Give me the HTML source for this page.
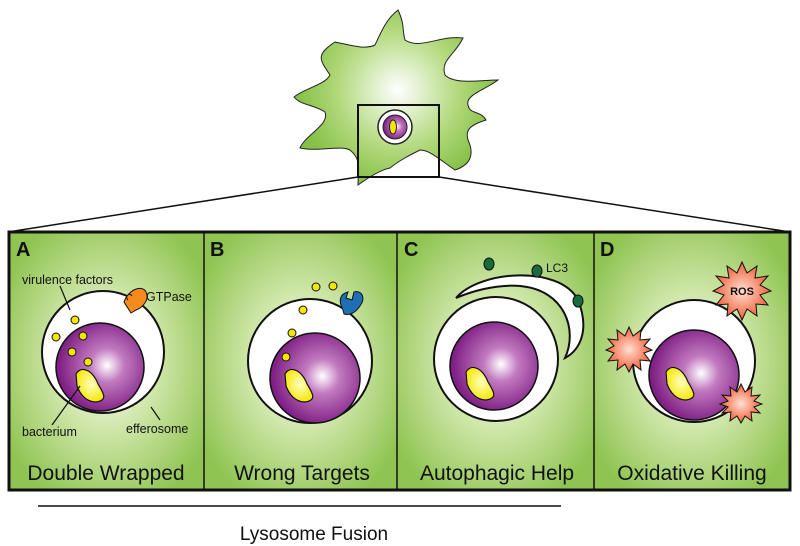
<!DOCTYPE html>
<html><head><style>html,body{margin:0;padding:0;background:#fff}svg{display:block}</style></head>
<body>
<svg width="800" height="546" viewBox="0 0 800 546" xmlns="http://www.w3.org/2000/svg" font-family="Liberation Sans, sans-serif">
<defs>
<radialGradient id="g" cx="50%" cy="50%" r="60%"><stop offset="0" stop-color="#ffffff"/><stop offset="0.45" stop-color="#cfe6a8"/><stop offset="1" stop-color="#8fc452"/></radialGradient>
<radialGradient id="p" cx="58%" cy="48%" r="55%"><stop offset="0" stop-color="#ffffff"/><stop offset="0.35" stop-color="#c27ac0"/><stop offset="1" stop-color="#7f1f84"/></radialGradient>
<radialGradient id="y" cx="55%" cy="45%" r="60%"><stop offset="0" stop-color="#ffffc0"/><stop offset="1" stop-color="#f4e600"/></radialGradient>
<radialGradient id="r" cx="50%" cy="50%" r="55%"><stop offset="0" stop-color="#ffe0d0"/><stop offset="1" stop-color="#f0502a"/></radialGradient>
<radialGradient id="cg" gradientUnits="userSpaceOnUse" cx="398" cy="90" r="100"><stop offset="0" stop-color="#ffffff"/><stop offset="0.6" stop-color="#b2d97c"/><stop offset="1" stop-color="#86c046"/></radialGradient>
</defs>
<!-- cell -->
<path d="M398,10 C405,25 402,30 405,40 C420,50 440,35 463,38 C455,55 440,60 445,75 C455,85 480,80 498,80 C485,90 465,95 468,105 C470,115 480,110 486,120 C470,125 465,130 468,140 C475,155 470,165 455,170 C440,160 430,150 420,150 C410,155 400,160 390,168 C380,170 365,180 358,185 C358,170 362,160 350,150 C340,145 320,152 300,148 C305,135 330,125 325,112 C315,105 300,105 294,97 C305,88 325,85 330,75 C320,60 315,55 335,42 C350,45 365,50 375,45 C380,35 385,20 398,10 Z" fill="url(#cg)" stroke="#222" stroke-width="1"/>
<rect x="358" y="105" width="81" height="72" fill="none" stroke="#111" stroke-width="2"/>
<circle cx="395" cy="127" r="17" fill="#fff" stroke="#222" stroke-width="1.5"/>
<circle cx="395" cy="127" r="12" fill="url(#p)" stroke="#222"/>
<ellipse cx="393" cy="127" rx="3.5" ry="7" fill="#f4e600" stroke="#222"/>
<line x1="358" y1="177" x2="8" y2="232" stroke="#111" stroke-width="1.5"/>
<line x1="439" y1="177" x2="790" y2="232" stroke="#111" stroke-width="1.5"/>
<!-- panels -->
<rect x="9" y="232" width="195" height="258" fill="url(#g)"/>
<rect x="204" y="232" width="193" height="258" fill="url(#g)"/>
<rect x="397" y="232" width="197" height="258" fill="url(#g)"/>
<rect x="594" y="232" width="196" height="258" fill="url(#g)"/>
<rect x="9" y="232" width="781" height="258" fill="none" stroke="#111" stroke-width="3"/>
<line x1="204" y1="232" x2="204" y2="490" stroke="#111" stroke-width="1.5"/>
<line x1="397" y1="232" x2="397" y2="490" stroke="#111" stroke-width="1.5"/>
<line x1="594" y1="232" x2="594" y2="490" stroke="#111" stroke-width="1.5"/>
<g font-weight="bold" font-size="20" fill="#111"><text x="16" y="256">A</text><text x="210" y="256">B</text><text x="404" y="256">C</text><text x="600" y="256">D</text></g>
<g font-size="21" fill="#111" text-anchor="middle"><text x="106" y="480">Double Wrapped</text><text x="302" y="480">Wrong Targets</text><text x="497" y="480">Autophagic Help</text><text x="692" y="480">Oxidative Killing</text></g>
<!-- A -->
<circle cx="103" cy="352" r="61" fill="#fff" stroke="#111" stroke-width="2"/>
<circle cx="100" cy="367" r="44" fill="url(#p)" stroke="#111" stroke-width="1.5"/>
<path d="M76,374 C82,364 94,372 98,384 C104,394 108,400 96,402 C86,402 80,394 77,386 Z" fill="url(#y)" stroke="#111" stroke-width="1.2"/>
<g fill="#f4e600" stroke="#111"><circle cx="75" cy="320" r="4"/><circle cx="56" cy="337" r="4"/><circle cx="83" cy="336" r="4"/><circle cx="72" cy="352" r="4"/><circle cx="88" cy="362" r="4"/></g>
<path d="M124,302 C128,290 142,284 146,292 C150,300 142,308 136,310 L131,313 Z M128,300 C124,296 130,292 132,296" fill="#f58a1f" stroke="#111"/>
<line x1="60" y1="286" x2="70" y2="310" stroke="#111" stroke-width="1.2"/>
<line x1="80" y1="386" x2="52" y2="425" stroke="#111" stroke-width="1.2"/>
<line x1="151" y1="407" x2="160" y2="420" stroke="#111" stroke-width="1.2"/>
<g font-size="12.5" fill="#111"><text x="22" y="284">virulence factors</text><text x="146" y="301">GTPase</text><text x="22" y="436">bacterium</text><text x="126" y="433">efferosome</text></g>
<!-- B -->
<circle cx="310" cy="361" r="62" fill="#fff" stroke="#111" stroke-width="2"/>
<circle cx="315" cy="378" r="45" fill="url(#p)" stroke="#111" stroke-width="1.5"/>
<path d="M285,374 C291,364 303,372 307,384 C313,394 317,400 305,402 C295,402 289,394 286,386 Z" fill="url(#y)" stroke="#111" stroke-width="1.2"/>
<g fill="#f4e600" stroke="#111"><circle cx="292" cy="333" r="4"/><circle cx="286" cy="357" r="4"/><circle cx="316" cy="287" r="4"/><circle cx="333" cy="286" r="4"/><circle cx="303" cy="310" r="4"/></g>
<path d="M343,310 C338,300 340,294 348,292 L346,298 L352,300 L354,292 C362,290 366,298 360,306 C356,312 350,316 344,314 Z" fill="#1f6fb5" stroke="#111"/>
<!-- C -->
<path d="M456,298 C480,270 560,265 578,300 C590,330 580,350 565,358 C578,330 565,290 520,286 C495,284 470,292 456,298 Z" fill="#fff" stroke="#111" stroke-width="2"/>
<circle cx="496" cy="359" r="62" fill="#fff" stroke="#111" stroke-width="2"/>
<circle cx="494" cy="366" r="44" fill="url(#p)" stroke="#111" stroke-width="1.5"/>
<path d="M466,372 C472,362 484,370 488,382 C494,392 498,398 486,400 C476,400 470,392 467,384 Z" fill="url(#y)" stroke="#111" stroke-width="1.2"/>
<g fill="#1a6b3c" stroke="#111"><ellipse cx="489" cy="264" rx="5" ry="6"/><ellipse cx="537" cy="271" rx="5" ry="6"/><ellipse cx="578" cy="301" rx="5" ry="6"/></g>
<text x="546" y="272" font-size="12" fill="#111">LC3</text>
<!-- D -->
<circle cx="694" cy="361" r="61" fill="#fff" stroke="#111" stroke-width="2"/>
<circle cx="694" cy="375" r="45" fill="url(#p)" stroke="#111" stroke-width="1.5"/>
<path d="M666,372 C672,362 684,370 688,382 C694,392 698,398 686,400 C676,400 670,392 667,384 Z" fill="url(#y)" stroke="#111" stroke-width="1.2"/>
<g fill="url(#r)" stroke="#111" stroke-width="1">
<polygon points="742,262 747,273 757,266 755,278 768,276 760,285 771,291 760,295 768,305 756,304 757,316 747,309 742,320 737,309 727,316 728,304 716,305 724,295 713,291 724,285 716,276 729,278 727,266 737,273"/>
<polygon points="629,327 633,336 641,330 640,340 650,339 644,346 652,350 644,353 650,361 640,360 641,370 633,364 629,372 625,364 617,370 618,360 608,361 614,353 606,350 614,346 608,339 618,340 617,330 625,336"/>
<polygon points="741,384 745,392 752,387 751,396 760,395 754,401 762,404 754,407 760,413 751,412 752,421 745,416 741,423 737,416 730,421 731,412 722,413 728,407 720,404 728,401 722,395 731,396 730,387 737,392"/>
</g>
<text x="742" y="295" font-size="11" font-weight="bold" text-anchor="middle" fill="#111">ROS</text>
<!-- bottom -->
<line x1="38" y1="506" x2="561" y2="506" stroke="#111" stroke-width="1.5"/>
<text x="314" y="540" font-size="19" text-anchor="middle" fill="#111">Lysosome Fusion</text>
</svg>
</body></html>
